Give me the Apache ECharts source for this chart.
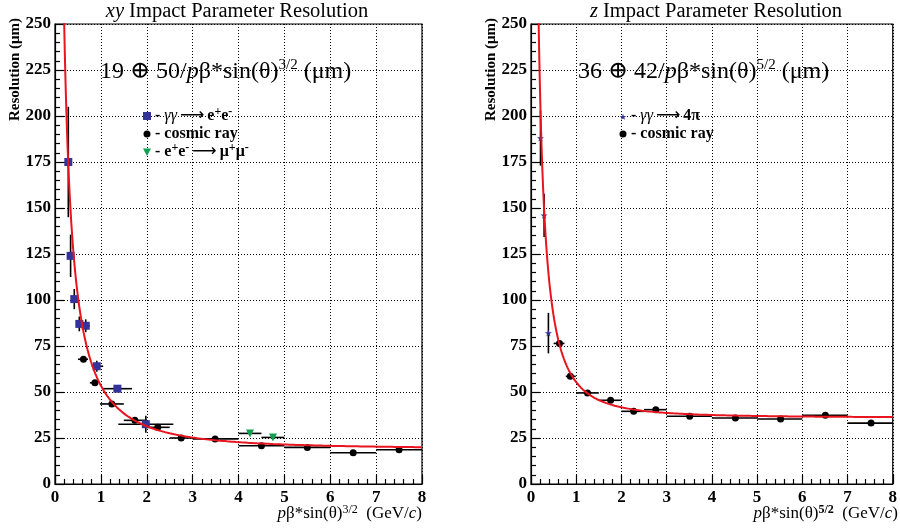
<!DOCTYPE html>
<html><head><meta charset="utf-8">
<script src="https://cdn.jsdelivr.net/npm/echarts@6/dist/echarts.min.js"></script>
<style>html,body{margin:0;padding:0;background:#fff}#c{width:900px;height:530px}</style>
</head><body><div id="c"></div>
<script>
// ---------- data ----------
const xTickLabels = ['0','1','2','3','4','5','6','7','8'];
const yTickLabels = ['0','25','50','75','100','125','150','175','200','225','250'];

// xy panel: gamma gamma -> e+e-
const xyGGX    = [0.29, 0.34, 0.42, 0.53, 0.67, 0.91, 1.36, 1.98];
const xyGGY    = [175, 124, 100.5, 87, 86, 64, 51.8, 32.5];
const xyGGYErr = [30, 11.5, 5.5, 4, 3.5, 3, 1.5, 4.6];
const xyGGXLo  = [0.29, 0.34, 0.42, 0.53, 0.58, 0.80, 1.05, 1.38];
const xyGGXHi  = [0.29, 0.34, 0.42, 0.53, 0.76, 1.05, 1.68, 2.58];
// xy panel: cosmic ray
const xyCosX    = [0.62, 0.87, 1.24, 1.74, 2.24, 2.75, 3.49, 4.5, 5.5, 6.5, 7.5];
const xyCosY    = [67.8, 55, 43.5, 34.6, 30.8, 25, 24.5, 20.8, 19.9, 17, 18.6];
const xyCosXLo  = [0.5, 0.76, 0.98, 1.5, 2.0, 2.5, 3, 4, 5, 6, 7];
const xyCosXHi  = [0.72, 0.94, 1.5, 2.0, 2.5, 3.0, 4, 5, 6, 7, 8];
const xyCosYErr = [1, 1, 1, 1, 1, 0.8, 0.8, 0.8, 0.8, 0.8, 0.8];
// xy panel: e+e- -> mu+mu-
const xyMuX    = [4.25, 4.75];
const xyMuY    = [27.5, 25.3];
const xyMuXLo  = [4.0, 4.5];
const xyMuXHi  = [4.5, 5.0];
const xyMuYErr = [0.5, 0.5];
// xy fit: a (+) b / x
const xyFit = [19, 50];

// z panel: gamma gamma -> 4pi
const zGGX    = [0.21, 0.29, 0.385];
const zGGY    = [188, 146, 82];
const zGGYErr = [15, 11.7, 11];
const zGGXLo  = [0.19, 0.27, 0.385];
const zGGXHi  = [0.23, 0.31, 0.385];
// z panel: cosmic ray
const zCosX    = [0.63, 0.87, 1.25, 1.76, 2.27, 2.76, 3.51, 4.52, 5.52, 6.51, 7.52];
const zCosY    = [76.4, 58.5, 49.5, 45.5, 39.5, 40.4, 36.8, 35.9, 35.3, 37.3, 33.1];
const zCosXLo  = [0.5, 0.77, 1, 1.5, 2, 2.5, 3, 4, 5, 6, 7];
const zCosXHi  = [0.74, 0.99, 1.5, 2, 2.5, 3, 4, 5, 6, 7, 8];
const zCosYErr = [1, 1, 1, 1, 0.8, 0.8, 0.8, 0.8, 0.8, 0.8, 0.8];
// z fit
const zFit = [36, 42];

// ---------- chart ----------
const SERIF = "'Liberation Serif','DejaVu Serif',serif";
const BLUE = '#333399', GREEN = '#10a050', RED = '#e8141e';
const STAR = 'path://M50,0 L61,35 L98,35 L68,57 L79,91 L50,70 L21,91 L32,57 L2,35 L39,35 Z';
const STAR_PTS = [[50,0],[61,35],[98,35],[68,57],[79,91],[50,70],[21,91],[32,57],[2,35],[39,35]];

function fitCurve(p) {
  const pts = [];
  for (let x = 0.15; x <= 8.0001; x += (x < 1 ? 0.005 : 0.05)) {
    pts.push([x, Math.sqrt(p[0]*p[0] + (p[1]/x)*(p[1]/x))]);
  }
  return pts;
}

function errSeries(gi, xs, ys, xlo, xhi, yerr) {
  const data = xs.map((x, i) => [x, ys[i], xlo[i], xhi[i], ys[i]-yerr[i], ys[i]+yerr[i]]);
  return {
    type: 'custom', xAxisIndex: gi, yAxisIndex: gi, data, silent: true, z: 2, clip: true,
    encode: {x: [0, 2, 3], y: [1, 4, 5]},
    renderItem: (params, api) => {
      const l = api.coord([api.value(2), api.value(1)]);
      const r = api.coord([api.value(3), api.value(1)]);
      const b = api.coord([api.value(0), api.value(4)]);
      const t = api.coord([api.value(0), api.value(5)]);
      return {type: 'group', children: [
        {type: 'line', shape: {x1: l[0], y1: l[1], x2: r[0], y2: r[1]}, style: {stroke: '#000', lineWidth: 1.6}},
        {type: 'line', shape: {x1: b[0], y1: b[1], x2: t[0], y2: t[1]}, style: {stroke: '#000', lineWidth: 1.6}}
      ]};
    }
  };
}

function pts(xs, ys) { return xs.map((x, i) => [x, ys[i]]); }

function scat(gi, xs, ys, symbol, size, color, rot) {
  return {type: 'scatter', xAxisIndex: gi, yAxisIndex: gi, data: pts(xs, ys), symbol, symbolSize: size,
    symbolRotate: rot || 0, itemStyle: {color, opacity: 1}, z: 3, silent: true};
}

function xAxisCfg(gi) {
  return {
    gridIndex: gi, type: 'value', min: 0, max: 8, interval: 1,
    axisLine: {show: true, onZero: false, lineStyle: {color: '#000', width: 1.2}},
    axisTick: {show: true, inside: true, length: 9, lineStyle: {color: '#000', width: 1.2}},
    minorTick: {show: true, splitNumber: 5, length: 5, lineStyle: {color: '#000', width: 1.2}},
    splitLine: {show: true, lineStyle: {color: '#000', width: 1, type: [1, 2]}},
    axisLabel: {margin: 5, color: '#000', fontFamily: SERIF, fontWeight: 'bold', fontSize: 17,
      formatter: v => xTickLabels[Math.round(v)]}
  };
}
function yAxisCfg(gi) {
  return {
    gridIndex: gi, type: 'value', min: 0, max: 250, interval: 25,
    axisLine: {show: true, onZero: false, lineStyle: {color: '#000', width: 1.2}},
    axisTick: {show: true, inside: true, length: 9, lineStyle: {color: '#000', width: 1.2}},
    minorTick: {show: true, splitNumber: 5, length: 5, lineStyle: {color: '#000', width: 1.2}},
    splitLine: {show: true, lineStyle: {color: '#000', width: 1, type: [1, 2]}},
    axisLabel: {margin: 4, color: '#000', fontFamily: SERIF, fontWeight: 'bold', fontSize: 17,
      formatter: v => yTickLabels[Math.round(v/25)]}
  };
}

function txt(x, y, text, rich, extra) {
  return Object.assign({type: 'text', x, y, z: 10, silent: true,
    style: Object.assign({text, rich, fill: '#000', font: '16px ' + SERIF, align: 'left', verticalAlign: 'middle'}, extra || {})});
}

const base = {fontFamily: SERIF, fill: '#000'};
const richTitle = {
  i: Object.assign({}, base, {fontSize: 20.5, fontStyle: 'italic'}),
  n: Object.assign({}, base, {fontSize: 20.5})
};
const richFormula = {
  n: Object.assign({}, base, {fontSize: 24, lineHeight: 28}),
  i: Object.assign({}, base, {fontSize: 24, fontStyle: 'italic', lineHeight: 28}),
  s: Object.assign({}, base, {fontSize: 15, lineHeight: 15, verticalAlign: 'top'})
};
const richLegend = {
  b: Object.assign({}, base, {fontSize: 16, fontWeight: 'bold', lineHeight: 20}),
  i: Object.assign({}, base, {fontSize: 16, fontStyle: 'italic', lineHeight: 20}),
  n: Object.assign({}, base, {fontSize: 16, lineHeight: 20}),
  a: {fontFamily: "'DejaVu Sans',sans-serif", fill: '#000', fontSize: 17, lineHeight: 20, padding: [0, 3, 0, 3]},
  s: Object.assign({}, base, {fontSize: 12, fontWeight: 'bold', lineHeight: 12, verticalAlign: 'top'})
};
const richX = {
  n: Object.assign({}, base, {fontSize: 17, lineHeight: 21}),
  i: Object.assign({}, base, {fontSize: 17, fontStyle: 'italic', lineHeight: 21}),
  s: Object.assign({}, base, {fontSize: 12, lineHeight: 12, verticalAlign: 'top'}),
  sb: Object.assign({}, base, {fontSize: 12, fontWeight: 'bold', lineHeight: 12, verticalAlign: 'top'})
};

const graphics = [
  // titles
  txt(237, 12, '{i|xy}{n| Impact Parameter Resolution}', richTitle, {align: 'center'}),
  txt(716, 12, '{i|z}{n| Impact Parameter Resolution}', richTitle, {align: 'center'}),
  // formulas
  txt(100, 72, '{n|19 ⊕ 50/}{i|p}{n|β*sin(θ)}{s|3/2}{n| (μm)}', richFormula),
  txt(578, 72, '{n|36 ⊕ 42/}{i|p}{n|β*sin(θ)}{s|5/2}{n| (μm)}', richFormula),
  // legend left
  {type: 'rect', z: 10, shape: {x: 143, y: 112, width: 8, height: 8}, style: {fill: BLUE}},
  {type: 'circle', z: 10, shape: {cx: 147, cy: 134, r: 3.5}, style: {fill: '#000'}},
  {type: 'polygon', z: 10, shape: {points: [[143, 148.5], [151, 148.5], [147, 156]]}, style: {fill: GREEN}},
  txt(155, 116, '{b|- }{i|γγ}{a|⟶}{b|e}{s|+}{b|e}{s|-}', richLegend),
  txt(155, 134, '{b|- cosmic ray}', richLegend),
  txt(155, 152, '{b|- e}{s|+}{b|e}{s|-}{a|⟶}{b|μ}{s|+}{b|μ}{s|-}', richLegend),
  // legend right
  {type: 'polygon', z: 10, shape: {points: STAR_PTS.map(p => [619.5 + p[0]*0.07, 113.5 + p[1]*0.07])}, style: {fill: BLUE}},
  {type: 'circle', z: 10, shape: {cx: 623, cy: 134, r: 3.5}, style: {fill: '#000'}},
  txt(631, 116, '{b|- }{i|γγ}{a|⟶}{b|4π}', richLegend),
  txt(631, 134, '{b|- cosmic ray}', richLegend),
  // x titles
  txt(422, 514, '{i|p}{n|β*sin(θ)}{s|3/2}{n|  (GeV/}{i|c}{n|)}', richX, {align: 'right'}),
  txt(898, 514, '{i|p}{n|β*sin(θ)}{sb|5/2}{n|  (GeV/}{i|c}{n|)}', richX, {align: 'right'}),
  // y titles
  {type: 'text', z: 10, x: 15, y: 18, rotation: Math.PI/2, style: {text: 'Resolution (μm)', fill: '#000',
    font: 'bold 15px ' + SERIF, align: 'right', verticalAlign: 'middle'}},
  {type: 'text', z: 10, x: 491, y: 18, rotation: Math.PI/2, style: {text: 'Resolution (μm)', fill: '#000',
    font: 'bold 15px ' + SERIF, align: 'right', verticalAlign: 'middle'}}
];

const chart = echarts.init(document.getElementById('c'), null, {renderer: 'canvas'});
chart.setOption({
  animation: false,
  backgroundColor: '#fff',
  grid: [
    {left: 55, top: 24, width: 367, height: 460, show: true, borderColor: '#000', borderWidth: 1.2, backgroundColor: 'transparent'},
    {left: 531, top: 24, width: 367, height: 460, show: true, borderColor: '#000', borderWidth: 1.2, backgroundColor: 'transparent'}
  ],
  xAxis: [xAxisCfg(0), xAxisCfg(1)],
  yAxis: [yAxisCfg(0), yAxisCfg(1)],
  graphic: graphics,
  series: [
    errSeries(0, xyGGX, xyGGY, xyGGXLo, xyGGXHi, xyGGYErr),
    errSeries(0, xyCosX, xyCosY, xyCosXLo, xyCosXHi, xyCosYErr),
    errSeries(0, xyMuX, xyMuY, xyMuXLo, xyMuXHi, xyMuYErr),
    scat(0, xyGGX, xyGGY, 'rect', 8, BLUE),
    scat(0, xyCosX, xyCosY, 'circle', 7, '#000'),
    scat(0, xyMuX, xyMuY, 'triangle', 8, GREEN, 180),
    {type: 'line', xAxisIndex: 0, yAxisIndex: 0, data: fitCurve(xyFit), showSymbol: false, clip: true,
      lineStyle: {color: RED, width: 2}, z: 4, silent: true},
    errSeries(1, zGGX, zGGY, zGGXLo, zGGXHi, zGGYErr),
    errSeries(1, zCosX, zCosY, zCosXLo, zCosXHi, zCosYErr),
    scat(1, zGGX, zGGY, STAR, 7, BLUE),
    scat(1, zCosX, zCosY, 'circle', 7, '#000'),
    {type: 'line', xAxisIndex: 1, yAxisIndex: 1, data: fitCurve(zFit), showSymbol: false, clip: true,
      lineStyle: {color: RED, width: 2}, z: 4, silent: true}
  ]
});
</script>
</body></html>
